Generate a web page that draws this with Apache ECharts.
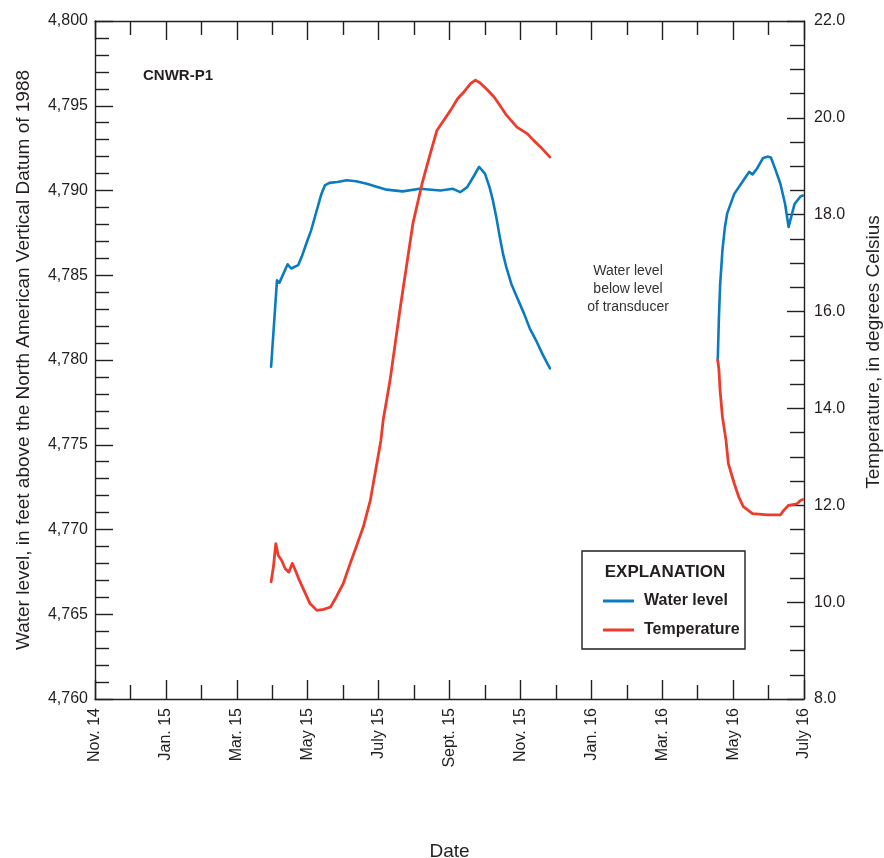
<!DOCTYPE html>
<html>
<head>
<meta charset="utf-8">
<script src="https://cdn.jsdelivr.net/npm/echarts@6/dist/echarts.min.js"></script>
<style>
  html, body { margin: 0; padding: 0; background: #ffffff; }
  #chart { width: 884px; height: 858px; }
</style>
</head>
<body>
<div id="chart"></div>
<script>
// Tick labels for the date axis (one every two months, Nov. 2014 – July 2016)
const tickLabels = ['Nov. 14', 'Jan. 15', 'Mar. 15', 'May 15', 'July 15', 'Sept. 15',
                    'Nov. 15', 'Jan. 16', 'Mar. 16', 'May 16', 'July 16'];

// Water level, feet above NAVD 88 — 2015 record
const waterDates2015 = ['2015-03-31','2015-04-05','2015-04-07','2015-04-08','2015-04-14','2015-04-17',
  '2015-04-23','2015-04-26','2015-04-30','2015-05-04','2015-05-09','2015-05-13','2015-05-16',
  '2015-05-20','2015-05-27','2015-06-04','2015-06-12','2015-06-21','2015-06-30','2015-07-08',
  '2015-07-22','2015-08-06','2015-08-24','2015-09-04','2015-09-10','2015-09-16','2015-09-22',
  '2015-09-26','2015-10-01','2015-10-05','2015-10-08','2015-10-11','2015-10-14','2015-10-17',
  '2015-10-20','2015-10-24','2015-10-29','2015-11-04','2015-11-09','2015-11-15','2015-11-20',
  '2015-11-26'];
const waterLevels2015 = [4779.6, 4784.7, 4784.55, 4784.6, 4785.65, 4785.4,
  4785.6, 4786.1, 4786.9, 4787.65, 4788.85, 4789.8, 4790.3,
  4790.45, 4790.5, 4790.6, 4790.55, 4790.4, 4790.2, 4790.05,
  4789.95, 4790.1, 4790.0, 4790.1, 4789.9, 4790.2, 4790.9,
  4791.4, 4791.0, 4790.2, 4789.4, 4788.4, 4787.25, 4786.2,
  4785.4, 4784.5, 4783.7, 4782.75, 4781.85, 4781.05, 4780.3,
  4779.5];

// Water level — 2016 record
const waterDates2016 = ['2016-04-18','2016-04-19','2016-04-20','2016-04-22','2016-04-24','2016-04-26',
  '2016-05-02','2016-05-08','2016-05-12','2016-05-15','2016-05-18','2016-05-22','2016-05-27',
  '2016-05-31','2016-06-03','2016-06-07','2016-06-11','2016-06-15','2016-06-18','2016-06-20',
  '2016-06-23','2016-06-28','2016-06-30'];
const waterLevels2016 = [4780.0, 4782.5, 4784.4, 4786.5, 4787.8, 4788.65,
  4789.8, 4790.4, 4790.8, 4791.1, 4790.95, 4791.3, 4791.9,
  4792.0, 4791.95, 4791.2, 4790.4, 4789.2, 4787.85, 4788.4,
  4789.2, 4789.65, 4789.7];

// Water temperature, degrees Celsius — 2015 record
const tempDates2015 = ['2015-03-31','2015-04-02','2015-04-04','2015-04-06','2015-04-09','2015-04-12',
  '2015-04-15','2015-04-18','2015-04-20','2015-04-24','2015-04-29','2015-05-03','2015-05-09',
  '2015-05-15','2015-05-21','2015-05-26','2015-06-01','2015-06-07','2015-06-12','2015-06-18',
  '2015-06-24','2015-06-27','2015-06-30','2015-07-03','2015-07-05','2015-07-08','2015-07-11',
  '2015-07-20','2015-07-31','2015-08-08','2015-08-12','2015-08-16','2015-08-21','2015-08-27',
  '2015-09-02','2015-09-08','2015-09-13','2015-09-19','2015-09-23','2015-09-27','2015-10-03',
  '2015-10-09','2015-10-14','2015-10-20','2015-10-29','2015-11-07','2015-11-12','2015-11-18',
  '2015-11-26'];
const temps2015 = [10.42, 10.73, 11.21, 10.97, 10.86, 10.69,
  10.62, 10.80, 10.69, 10.45, 10.18, 9.97, 9.83,
  9.85, 9.90, 10.11, 10.38, 10.80, 11.14, 11.55,
  12.10, 12.52, 12.93, 13.34, 13.76, 14.17, 14.58,
  16.09, 17.82, 18.64, 18.99, 19.33, 19.74, 19.95,
  20.16, 20.40, 20.53, 20.71, 20.78, 20.72, 20.58,
  20.43, 20.26, 20.05, 19.81, 19.67, 19.54, 19.40,
  19.19];

// Water temperature — 2016 record
const tempDates2016 = ['2016-04-18','2016-04-19','2016-04-20','2016-04-22','2016-04-25','2016-04-27',
  '2016-05-02','2016-05-06','2016-05-10','2016-05-18','2016-05-31','2016-06-11','2016-06-14',
  '2016-06-18','2016-06-25','2016-06-28','2016-06-30'];
const temps2016 = [15.0, 14.8, 14.37, 13.82, 13.34, 12.86,
  12.45, 12.17, 11.97, 11.83, 11.8, 11.8, 11.9,
  12.0, 12.03, 12.1, 12.12];

const INK = '#231f20';
const BLUE = '#0b7bc0';
const RED = '#ee3b2c';
const FONT = '"Liberation Sans", Arial, sans-serif';

// Months elapsed since 1 Nov 2014, so each calendar month gets equal width
function monthIndex(s) {
  const [y, m, d] = s.split('-').map(Number);
  const days = new Date(y, m, 0).getDate();
  return (y - 2014) * 12 + (m - 11) + (d - 1) / days;
}
function pairs(dates, values) {
  return dates.map((d, i) => [monthIndex(d), values[i]]);
}

const lineAxis = { show: true, onZero: false, lineStyle: { color: INK, width: 1.4 } };
const tickStyle = { color: INK, width: 1.4 };

const dateAxisBase = {
  type: 'value', min: 0, max: 20, interval: 2,
  axisLine: lineAxis,
  axisTick: { show: true, inside: true, length: 19, lineStyle: tickStyle },
  minorTick: { show: true, splitNumber: 2, length: 14, lineStyle: tickStyle },
  splitLine: { show: false },
  minorSplitLine: { show: false }
};

function lineSeries(name, yIndex, color, width, data, z) {
  return {
    name, type: 'line', xAxisIndex: 0, yAxisIndex: yIndex,
    showSymbol: false, color, itemStyle: { color },
    lineStyle: { color, width, join: 'round', cap: 'round' }, data, z
  };
}

const chart = echarts.init(document.getElementById('chart'), null, { renderer: 'canvas' });

chart.setOption({
  animation: false,
  backgroundColor: '#ffffff',
  grid: { left: 95, right: 80, top: 21, bottom: 159, containLabel: false, outerBoundsMode: 'none' },
  xAxis: [
    Object.assign({}, dateAxisBase, {
      position: 'bottom',
      axisLabel: {
        rotate: 90, margin: 9, color: INK, fontFamily: FONT, fontSize: 16,
        showMinLabel: true, showMaxLabel: true,
        formatter: v => tickLabels[Math.round(v / 2)]
      },
      name: 'Date', nameLocation: 'middle', nameGap: 143,
      nameTextStyle: { color: INK, fontFamily: FONT, fontSize: 19 }
    }),
    Object.assign({}, dateAxisBase, {
      position: 'top',
      axisLabel: { show: false }
    })
  ],
  yAxis: [
    {
      type: 'value', min: 4760, max: 4800, interval: 5, position: 'left',
      axisLine: lineAxis,
      axisTick: { show: true, inside: true, length: 18, lineStyle: tickStyle },
      minorTick: { show: true, splitNumber: 5, length: 14, lineStyle: tickStyle },
      splitLine: { show: false },
      axisLabel: {
        margin: 7, color: INK, fontFamily: FONT, fontSize: 16,
        formatter: v => v.toLocaleString('en-US')
      },
      name: 'Water level, in feet above the North American Vertical Datum of 1988',
      nameLocation: 'middle', nameRotate: 90, nameGap: 62,
      nameTextStyle: { color: INK, fontFamily: FONT, fontSize: 19 }
    },
    {
      type: 'value', min: 8, max: 22, interval: 2, position: 'right',
      axisLine: lineAxis,
      axisTick: { show: true, inside: true, length: 17, lineStyle: tickStyle },
      minorTick: { show: true, splitNumber: 4, length: 14, lineStyle: tickStyle },
      splitLine: { show: false },
      axisLabel: {
        margin: 10, color: INK, fontFamily: FONT, fontSize: 16,
        formatter: v => v.toFixed(1)
      },
      name: 'Temperature, in degrees Celsius',
      nameLocation: 'middle', nameRotate: 90, nameGap: 60,
      nameTextStyle: { color: INK, fontFamily: FONT, fontSize: 19, padding: [0, 0, 0, 16] }
    }
  ],
  legend: {
    left: 598, top: 588, orient: 'vertical', selectedMode: false, z: 12,
    icon: 'rect', itemWidth: 31, itemHeight: 3, itemGap: 13,
    data: ['Water level', 'Temperature'],
    textStyle: { color: INK, fontFamily: FONT, fontWeight: 'bold', fontSize: 16, padding: [0, 0, 0, 5] }
  },
  series: [
    lineSeries('Water level', 0, BLUE, 2.6, pairs(waterDates2015, waterLevels2015), 2),
    lineSeries('Water level', 0, BLUE, 2.6, pairs(waterDates2016, waterLevels2016), 2),
    lineSeries('Temperature', 1, RED, 2.8, pairs(tempDates2015, temps2015), 3),
    lineSeries('Temperature', 1, RED, 2.8, pairs(tempDates2016, temps2016), 3)
  ],
  graphic: [
    {
      type: 'text', left: 143, top: 68,
      style: { text: 'CNWR-P1', fill: INK, font: 'bold 15px "Liberation Sans", Arial, sans-serif' }
    },
    {
      type: 'text', x: 628, y: 289,
      style: {
        text: 'Water level\nbelow level\nof transducer', fill: '#333333',
        font: '14px "Liberation Sans", Arial, sans-serif', lineHeight: 18,
        align: 'center', verticalAlign: 'middle'
      }
    },
    {
      type: 'rect', shape: { x: 582, y: 551, width: 163, height: 98 }, z: 1,
      style: { fill: 'none', stroke: INK, lineWidth: 1.4 }
    },
    {
      type: 'text', x: 665, y: 572, z: 11,
      style: {
        text: 'EXPLANATION', fill: INK, align: 'center', verticalAlign: 'middle',
        font: 'bold 17px "Liberation Sans", Arial, sans-serif'
      }
    }
  ]
});
</script>
</body>
</html>
